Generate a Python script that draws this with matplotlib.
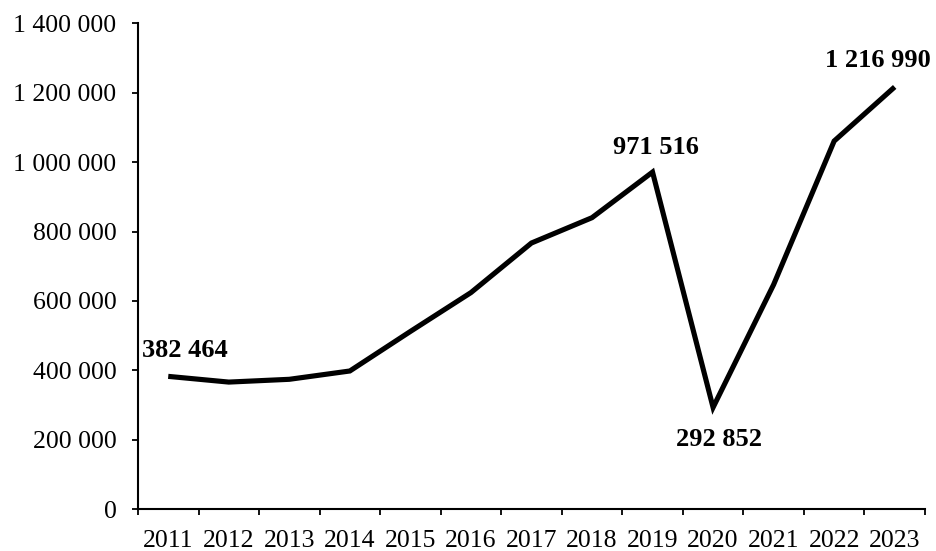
import matplotlib
matplotlib.use('Agg')
import matplotlib.pyplot as plt
import matplotlib.ticker as mticker
import numpy as np

plt.rcParams.update({
    'font.family': ['Liberation Serif', 'DejaVu Serif'],
    'font.size': 18.5,
})

# yearly totals
years = ['2011', '2012', '2013', '2014', '2015', '2016', '2017',
         '2018', '2019', '2020', '2021', '2022', '2023']
values = [382464, 366000, 374000, 398000, 512000, 624000, 767000,
          840000, 971516, 292852, 647000, 1061000, 1216990]

# annotated points: index -> (dx, dy) offset in pixels
labelled = {0: (17, 19), 8: (3, 18), 9: (6, -39), 12: (-17, 20)}


def spaced(v, pos=None):
    return f"{int(v):,}".replace(',', ' ')


fig = plt.figure(figsize=(9.36, 5.51), dpi=100)
ax = fig.add_axes([0.1474, 0.0762, 0.9882 - 0.1474, 0.9574 - 0.0762])

x = np.arange(len(years))
ax.plot(x, values, color='black', lw=3.7, solid_joinstyle='miter',
        solid_capstyle='butt')

for i, (dx, dy) in labelled.items():
    ax.annotate(spaced(values[i]), xy=(x[i], values[i]), xytext=(dx, dy),
                textcoords='offset pixels', ha='center', va='baseline',
                fontweight='bold', fontsize=19)

ax.set_xlim(-0.5, len(years) - 0.5)
ax.set_ylim(0, 1400000)
ax.yaxis.set_major_locator(mticker.MultipleLocator(200000))
ax.yaxis.set_major_formatter(mticker.FuncFormatter(spaced))

# category boundaries carry the tick marks, centres carry the labels
ax.set_xticks(np.arange(-0.5, len(years), 1.0))
ax.set_xticklabels([])
ax.set_xticks(x, minor=True)
ax.set_xticklabels(years, minor=True)
ax.tick_params(axis='x', which='major', direction='out', length=4.5, width=1.3)
ax.tick_params(axis='x', which='minor', length=0, pad=15)
ax.tick_params(axis='y', direction='out', length=4.5, width=1.3, pad=11)

for side in ('top', 'right'):
    ax.spines[side].set_visible(False)
for side in ('left', 'bottom'):
    ax.spines[side].set_linewidth(1.5)

fig.savefig('out.png', dpi=100)
